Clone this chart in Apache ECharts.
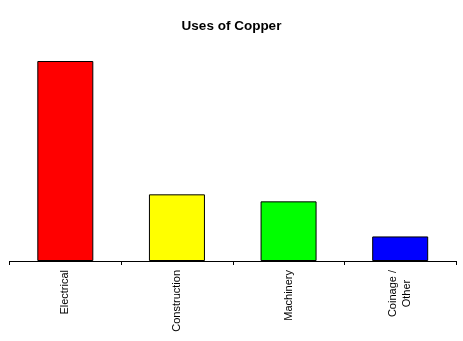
<!DOCTYPE html>
<html>
<head>
<meta charset="utf-8">
<style>
  html, body { margin: 0; padding: 0; background: #fff; }
  #chart { width: 463px; height: 341px; }
</style>
<script src="https://cdn.jsdelivr.net/npm/echarts@6/dist/echarts.min.js"></script>
</head>
<body>
<div id="chart"></div>
<script>
// Share of copper consumption by end use (percent)
const categories = ['Electrical', 'Construction', 'Machinery', 'Coinage /\nOther'];
const values = [57, 19, 17, 7];
const barColors = ['#FF0000', '#FFFF00', '#00FF00', '#0000FF'];

const chart = echarts.init(document.getElementById('chart'), null, { renderer: 'canvas' });

chart.setOption({
  backgroundColor: '#ffffff',
  animation: false,
  title: {
    text: 'Uses of Copper',
    left: 'center',
    top: 14,
    textStyle: {
      fontFamily: 'Liberation Sans, Arial, sans-serif',
      fontSize: 13.5,
      fontWeight: 'bold',
      color: '#000'
    }
  },
  grid: { left: 9.5, right: 7, top: 61, bottom: 80, containLabel: false },
  xAxis: {
    type: 'category',
    data: categories,
    boundaryGap: true,
    axisLine: { show: true, lineStyle: { color: '#000', width: 1 } },
    axisTick: { show: true, length: 4, lineStyle: { color: '#000' } },
    axisLabel: {
      rotate: 90,
      margin: 9,
      interval: 0,
      fontFamily: 'Liberation Sans, Arial, sans-serif',
      fontSize: 11,
      color: '#000',
      lineHeight: 14,
      formatter: v => v.split('\n').map(s => '{c|' + s + '}').join('\n'),
      rich: { c: { align: 'center', fontSize: 11, color: '#000', fontFamily: 'Liberation Sans, Arial, sans-serif' } }
    }
  },
  yAxis: {
    type: 'value',
    min: 0,
    max: 57,
    show: false,
    splitLine: { show: false }
  },
  series: [{
    type: 'bar',
    barWidth: 56,
    data: values.map((v, i) => ({
      value: v,
      itemStyle: { color: barColors[i], borderColor: '#000', borderWidth: 1 }
    }))
  }]
});
</script>
</body>
</html>
